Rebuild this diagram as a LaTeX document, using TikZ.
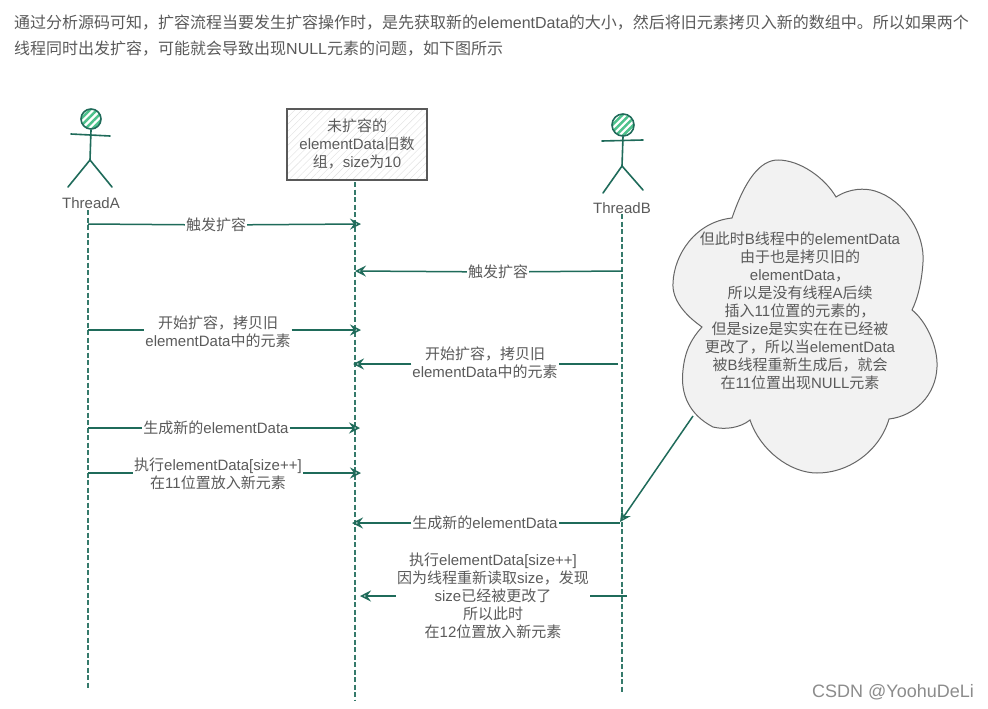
\documentclass[tikz,border=0pt]{standalone}
\usepackage{fontspec}
\setmainfont{Noto Sans CJK SC}
\newfontfamily\latf{Liberation Sans}
\newcommand{\lat}[1]{{\latf #1}}
\newcommand{\elem}{\lat{elementData}}
\usetikzlibrary{arrows.meta,patterns.meta}
\definecolor{stickgreen}{HTML}{1F6B5A}
\definecolor{wordgray}{HTML}{5A5A5A}
\tikzset{
	lifeline/.style={stickgreen!90!white,line width=1.3pt,dash pattern=on 5pt off 2.5pt},
	msg/.style={stickgreen,line width=1.5pt},
	msgarrow/.style={msg,-{Stealth[open,length=11pt,width=11pt,inset=4pt]}},
	stick/.style={stickgreen,line width=1.6pt,line cap=round},
	word/.style={text=wordgray,font=\fontsize{15}{18}\selectfont,align=center,inner sep=1pt},
	head/.style={circle,draw=stickgreen,line width=1.6pt,inner sep=0pt,minimum size=#1,
		pattern={Lines[angle=45,distance=5pt,line width=2.5pt]},pattern color=teal!70!green!70!white}
}
\begin{document}
\begin{tikzpicture}[x=1pt,y=-1pt]
	\useasboundingbox[fill=white] (0,0) rectangle (988,709);
	% text above the picture
	\node[anchor=west,text=wordgray,font=\fontsize{16}{18}\selectfont,inner sep=0pt] (lineone) at (14,23)
		{通过分析源码可知，扩容流程当要发生扩容操作时，是先获取新的\elem 的大小，然后将旧元素拷贝入新的数组中。所以如果两个};
	\node[anchor=west,text=wordgray,font=\fontsize{16}{18}\selectfont,inner sep=0pt] (linetwo) at (14,49)
		{线程同时出发扩容，可能就会导致出现\lat{NULL}元素的问题，如下图所示};
	% lifelines
	\coordinate (atop) at (88,210);
	\coordinate (abot) at (88,688);
	\coordinate (mtop) at (355,182);
	\coordinate (mbot) at (355,700);
	\coordinate (btop) at (622,214);
	\coordinate (bbot) at (622,692);
	\draw[lifeline] (atop)--(abot);
	\draw[lifeline] (mtop)--(mbot);
	\draw[lifeline] (btop)--(bbot);
	% thread A
	\node[head=20pt] (heada) at (91,119){};
	\coordinate (hipa) at (90,160);
	\draw[stick] (heada.south)--(hipa);
	\draw[stick] (71,134)--(110,136);
	\draw[stick] (68,187)--(hipa)--(112,187);
	\node[word] (threada) at (91,203){\lat{ThreadA}};
	% thread B
	\node[head=22pt] (headb) at (623,125){};
	\coordinate (hipb) at (622,166);
	\draw[stick] (headb.south)--(hipb);
	\draw[stick] (602,141)--(643,140);
	\draw[stick] (603,193)--(hipb)--(643,190);
	\node[word] (threadb) at (622,208){\lat{ThreadB}};
	% old array
	\node[word,draw=black!65,line width=2pt,minimum width=140pt,minimum height=71pt,
		pattern={Lines[angle=45,distance=5pt,line width=.4pt]},pattern color=black!12] (oldarray) at (357,144)
		{未扩容的\\\elem 旧数\\组，\lat{size}为\lat{10}};
	% cloud
	\draw[draw=black!60,fill=black!5,line width=1pt] (732,218)
		.. controls (745,180) and (760,160) .. (778,160)
		.. controls (800,160) and (825,178) .. (836,197)
		.. controls (850,188) and (865,188) .. (875,191)
		.. controls (905,200) and (925,235) .. (923,262)
		.. controls (922,280) and (918,298) .. (912,310)
		.. controls (925,320) and (938,345) .. (937,367)
		.. controls (936,395) and (915,416) .. (889,419)
		.. controls (880,450) and (850,473) .. (817,473)
		.. controls (790,473) and (760,450) .. (750,420)
		.. controls (740,428) and (725,430) .. (713,427)
		.. controls (690,415) and (680,395) .. (683,370)
		.. controls (685,350) and (692,338) .. (702,327)
		.. controls (685,315) and (672,300) .. (673,283)
		.. controls (674,255) and (695,222) .. (732,218) -- cycle;
	\node[word] (cloudtext) at (800,311)
		{但此时\lat{B}线程中的\elem\\由于也是拷贝旧的\\\elem，\\所以是没有线程\lat{A}后续\\插入\lat{11}位置的元素的，\\但是\lat{size}是实实在在已经被\\更改了，所以当\elem\\被\lat{B}线程重新生成后，就会\\在\lat{11}位置出现\lat{NULL}元素};
	\coordinate (cloudtail) at (693,416);
	\coordinate (bhit) at (620,522);
	\draw[msgarrow] (cloudtail)--(bhit);
	% messages
	\node[word] (msgone) at (216,225){触发扩容};
	\coordinate (aone) at (88,224);
	\coordinate (mone) at (361,224);
	\draw[msg] (aone)--(msgone);
	\draw[msgarrow] (msgone)--(mone);
	\node[word] (msgtwo) at (498,272){触发扩容};
	\coordinate (btwo) at (622,271);
	\coordinate (mtwo) at (355,271);
	\draw[msg] (btwo)--(msgtwo);
	\draw[msgarrow] (msgtwo)--(mtwo);
	\node[word] (msgthree) at (218,332){开始扩容，拷贝旧\\\elem 中的元素};
	\coordinate (athree) at (88,330);
	\coordinate (mthree) at (361,330);
	\draw[msg] (athree)--(athree-|msgthree.west);
	\draw[msgarrow] (mthree-|msgthree.east)--(mthree);
	\node[word] (msgfour) at (485,363){开始扩容，拷贝旧\\\elem 中的元素};
	\coordinate (bfour) at (618,364);
	\coordinate (mfour) at (353,364);
	\draw[msg] (bfour)--(bfour-|msgfour.east);
	\draw[msgarrow] (mfour-|msgfour.west)--(mfour);
	\node[word] (msgfive) at (216,428){生成新的\elem};
	\coordinate (afive) at (88,428);
	\coordinate (mfive) at (360,428);
	\draw[msg] (afive)--(msgfive);
	\draw[msgarrow] (msgfive)--(mfive);
	\node[word] (msgsix) at (218,474){执行\elem\lat{[size++]}\\在\lat{11}位置放入新元素};
	\coordinate (asix) at (88,473);
	\coordinate (msix) at (361,473);
	\draw[msg] (asix)--(asix-|msgsix.west);
	\draw[msgarrow] (msix-|msgsix.east)--(msix);
	\node[word] (msgseven) at (485,523){生成新的\elem};
	\coordinate (bseven) at (620,523);
	\coordinate (mseven) at (352,523);
	\draw[msg] (bseven)--(msgseven);
	\draw[msgarrow] (msgseven)--(mseven);
	\node[word] (msgeight) at (493,596){执行\elem\lat{[size++]}\\因为线程重新读取\lat{size}，发现\\\lat{size}已经被更改了\\所以此时\\在\lat{12}位置放入新元素};
	\coordinate (beight) at (627,596);
	\coordinate (meight) at (360,596);
	\draw[msg] (beight)--(beight-|msgeight.east);
	\draw[msgarrow] (meight-|msgeight.west)--(meight);
	% watermark
	\node[anchor=east,text=black!45,font=\fontsize{18}{18}\selectfont,inner sep=0pt] (mark) at (974,692){\lat{CSDN @YoohuDeLi}};
\end{tikzpicture}
\end{document}
